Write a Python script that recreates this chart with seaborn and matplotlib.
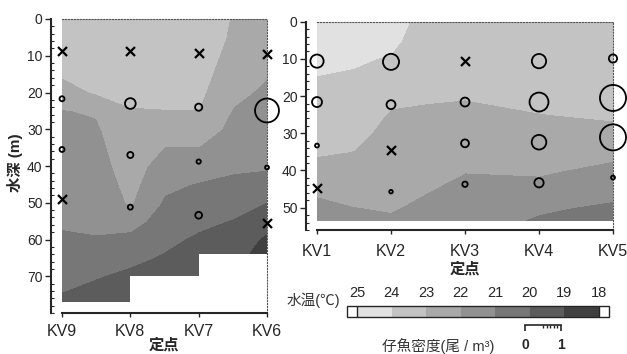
import numpy as np
import pandas as pd
import matplotlib
matplotlib.use("Agg")
import matplotlib.pyplot as plt
import seaborn as sns
from matplotlib.colors import ListedColormap, BoundaryNorm
from matplotlib.ticker import MultipleLocator

# ---- data ----
west_stations = ["KV9", "KV8", "KV7", "KV6"]
east_stations = ["KV1", "KV2", "KV3", "KV4", "KV5"]

temp_levels = [18, 19, 20, 21, 22, 23, 24, 25]
band_colors = ["#404040", "#5c5c5c", "#777777", "#919191", "#a9a9a9", "#c3c3c3", "#e1e1e1"]

# west section (KV9 -> KV6), columns every half station, depth every 5 m
west_x = [0, 0.5, 1, 1.5, 2, 2.5, 3]
west_depth = [0, 5, 10, 15, 20, 25, 30, 35, 40, 45, 50, 55, 60, 65, 70, 75, 80]
west_temp = [
    [23.8, 23.6, 23.4, 23.1, 22.6, 21.95, 21.85, 21.7, 21.55, 21.4, 21.25, 21.1, 20.88, 20.6, 20.3, 19.95, 19.7],
    [23.8, 23.6, 23.45, 23.25, 23.08, 22.1, 21.85, 21.7, 21.55, 21.4, 21.3, 21.15, 20.95, 20.5, 20.05, 19.7, 19.5],
    [23.9, 23.8, 23.6, 23.4, 23.2, 22.95, 22.8, 22.65, 22.5, 22.3, 22.1, 21.4, 20.7, 20.2, 19.8, 19.5, 19.3],
    [23.9, 23.75, 23.6, 23.4, 23.2, 22.98, 22.5, 21.98, 21.5, 21.2, 20.87, 20.53, 20.2, 19.9, 19.6, 19.4, 19.3],
    [23.9, 23.8, 23.6, 23.4, 23.2, 22.98, 22.5, 21.98, 21.5, 20.93, 20.57, 20.2, 19.85, 19.6, 19.4, 19.2, 19.1],
    [22.9, 22.8, 22.6, 22.4, 22.2, 21.95, 21.75, 21.45, 21.15, 20.8, 20.4, 19.95, 19.6, 19.3, 19.2, 19.1, 19.0],
    [22.6, 22.4, 22.25, 22.05, 21.85, 21.65, 21.45, 21.3, 21.1, 20.65, 19.98, 19.4, 18.8, 18.5, 18.4, 18.3, 18.2],
]
west_bottom = [77, 70, 64, 64]

# east section (KV1 -> KV5)
east_x = [0, 0.5, 1, 1.5, 2, 3, 4]
east_depth = [0, 5, 10, 15, 20, 25, 30, 35, 40, 45, 50, 55]
east_temp = [
    [24.6, 24.4, 24.2, 23.98, 23.78, 23.55, 23.32, 23.1, 22.7, 22.2, 21.7, 21.4],
    [24.5, 24.3, 24.1, 23.9, 23.67, 23.45, 23.22, 22.98, 22.65, 22.32, 21.98, 21.6],
    [24.4, 24.2, 23.93, 23.55, 23.18, 22.92, 22.75, 22.58, 22.41, 22.24, 22.07, 21.8],
    [23.6, 23.5, 23.4, 23.3, 23.1, 22.85, 22.65, 22.45, 22.25, 22.04, 21.8, 21.6],
    [23.6, 23.5, 23.4, 23.3, 23.05, 22.8, 22.55, 22.3, 22.03, 21.8, 21.55, 21.3],
    [23.6, 23.5, 23.4, 23.3, 23.2, 22.98, 22.7, 22.42, 22.13, 21.7, 21.12, 20.8],
    [23.6, 23.5, 23.4, 23.3, 23.2, 23.1, 22.8, 22.25, 21.75, 21.3, 20.85, 20.6],
]
east_bottom = [53.5, 53.5, 53.5, 53.5, 53.5]

# larval fish density (ind./m3), 0 = none caught (x)
west_fish_station = [0, 0, 0, 0, 1, 1, 1, 1, 2, 2, 2, 2, 3, 3, 3, 3]
west_fish_depth = [8.6, 21.7, 35.5, 48.9, 8.6, 23, 37, 51.2, 9.3, 24, 38.8, 53.4, 9.5, 24.9, 40.4, 55.5]
west_fish_density = [0, 0.14, 0.14, 0, 0, 0.30, 0.17, 0.14, 0, 0.20, 0.12, 0.19, 0, 0.67, 0.11, 0]

east_fish_station = [0, 0, 0, 0, 1, 1, 1, 1, 2, 2, 2, 2, 3, 3, 3, 3, 4, 4, 4, 4]
east_fish_depth = [10.6, 21.6, 33.3, 44.8, 10.8, 22.3, 34.5, 45.7, 10.6, 21.6, 32.7, 43.7,
                   10.6, 21.6, 32.4, 43.3, 9.9, 20.5, 31.1, 41.9]
east_fish_density = [0.37, 0.28, 0.11, 0, 0.45, 0.25, 0, 0.10, 0, 0.25, 0.22, 0.15,
                     0.40, 0.53, 0.41, 0.26, 0.23, 0.73, 0.73, 0.11]

SCALE_PX = 35.7  # circle diameter (px) for 1 ind./m3

sns.set_style("ticks")
plt.rcParams['font.family'] = ['Liberation Sans', 'Noto Sans CJK JP', 'DejaVu Sans']

cmap = ListedColormap(band_colors)
cmap.set_under("white")
cmap.set_over("white")
norm = BoundaryNorm(temp_levels, cmap.N)

fig = plt.figure(figsize=(6.27, 3.54), dpi=100)
W, H = 627, 354


def px_axes(x0, y0, x1, y1):
    return fig.add_axes([x0 / W, 1 - y1 / H, (x1 - x0) / W, (y1 - y0) / H])


def draw_section(ax, xs, depths, temp, bottom, stations, ymax, yticks, fst, fdep, fden, xpad):
    grid = np.array(temp).T
    cs = ax.contourf(xs, depths, grid, levels=temp_levels, cmap=cmap, norm=norm, extend="both")
    n = len(stations)
    ax.fill_between(range(n), bottom, ymax + 1, step="post", color="white", zorder=2, lw=0)
    ax.set_xlim(0, n - 1)
    ax.set_ylim(ymax, 0)

    df = pd.DataFrame({"x": fst, "depth": fdep, "density": fden})
    got = df[df.density > 0]
    none = df[df.density == 0]
    sizes = ((got.density * SCALE_PX * 0.72) ** 2).to_numpy()
    sns.scatterplot(data=got, x="x", y="depth", s=sizes, facecolor="none", edgecolor="black",
                    linewidth=1.3, clip_on=False, zorder=5, ax=ax, legend=False)
    sns.scatterplot(data=none, x="x", y="depth", marker="x", s=42, color="black",
                    linewidth=1.6, clip_on=False, zorder=5, ax=ax, legend=False)

    ax.set_xlabel("")
    ax.set_ylabel("")
    ax.set_xticks(range(n))
    ax.set_xticklabels(stations, fontsize=11.5)
    ax.set_yticks(yticks)
    ax.yaxis.set_minor_locator(MultipleLocator(2))
    ax.tick_params(axis="x", length=3, width=1, pad=xpad)
    ax.tick_params(axis="y", which="major", length=4, width=1, pad=2, labelsize=10)
    ax.tick_params(axis="y", which="minor", direction="in", length=2, width=0.8)
    ax.spines["left"].set_position(("outward", 8))
    ax.spines["left"].set_linewidth(1.5)
    ax.spines["bottom"].set_linewidth(1.5)
    for side in ["top", "right"]:
        ax.spines[side].set_visible(True)
        ax.spines[side].set_linestyle(":")
        ax.spines[side].set_linewidth(0.8)
        ax.spines[side].set_color("#555555")
    return cs


ax1 = px_axes(62, 19, 267, 313)
cs = draw_section(ax1, west_x, west_depth, west_temp, west_bottom, west_stations, 80,
                  [0, 10, 20, 30, 40, 50, 60, 70],
                  west_fish_station, west_fish_depth, west_fish_density, 5)

ax2 = px_axes(317, 21.7, 613, 230)
draw_section(ax2, east_x, east_depth, east_temp, east_bottom, east_stations, 56,
             [0, 10, 20, 30, 40, 50],
             east_fish_station, east_fish_depth, east_fish_density, 7)

fig.text(15 / W, 1 - 163 / H, "水深 (m)", rotation=90, ha="center", va="center",
         fontsize=11, fontweight="bold")
fig.text(164 / W, 1 - 353 / H, "定点", ha="center", va="bottom", fontsize=11, fontweight="bold")
fig.text(465 / W, 1 - 269 / H, "定点", ha="center", va="center", fontsize=11, fontweight="bold")

# temperature colour bar
cax = px_axes(347, 306, 609, 317)
cb = fig.colorbar(cs, cax=cax, orientation="horizontal", extendrect=True,
                  extendfrac=0.042, drawedges=True)
cb.set_ticks(temp_levels)
cb.outline.set_linewidth(1)
cb.dividers.set_linewidth(1)
cax.invert_xaxis()
cax.xaxis.set_ticks_position("top")
cax.tick_params(axis="x", length=0, pad=4, labelsize=10.5)
fig.text(287 / W, 1 - 300 / H, "水温(℃)", ha="left", va="center", fontsize=10.5, color="#333333")

# density scale bar
sax = px_axes(525, 325, 561, 335)
sax.set_xlim(0, 1)
sax.set_ylim(0, 1)
for side in ["left", "right", "bottom"]:
    sax.spines[side].set_visible(False)
sax.spines["top"].set_linewidth(1.2)
sax.set_yticks([])
sax.set_xticks([0, 1])
sax.set_xticklabels(["0", "1"], fontsize=10, fontweight="bold")
sax.set_xticks([0.5, 0.6, 0.7, 0.8, 0.9], minor=True)
sax.tick_params(axis="x", which="major", top=True, bottom=False, direction="in",
                length=4, width=1.2, labelbottom=True, labeltop=False, pad=2)
sax.tick_params(axis="x", which="minor", top=True, bottom=False, direction="in",
                length=2, width=1)
sax.patch.set_alpha(0)
fig.text(382 / W, 1 - 346 / H, "仔魚密度(尾 / m³)", ha="left", va="center", fontsize=10.5,
         color="#333333")

fig.savefig("out.png", dpi=100)
